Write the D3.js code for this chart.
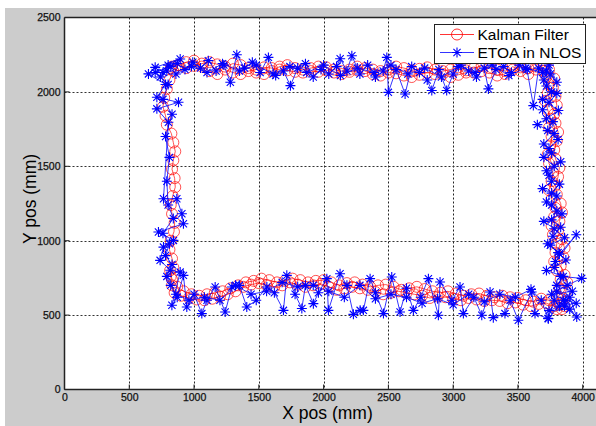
<!DOCTYPE html>
<html><head><meta charset="utf-8">
<script src="https://cdn.jsdelivr.net/npm/d3@7"></script>
<style>
html,body{margin:0;padding:0;background:#fff;}
svg{display:block;}
text{font-family:"Liberation Sans",Arial,sans-serif;}
</style></head>
<body>
<svg id="chart" width="596" height="426"></svg>
<script>
const xTicks = [0,500,1000,1500,2000,2500,3000,3500,4000];
const yTicks = [0,500,1000,1500,2000,2500];
const seriesNames = ["Kalman Filter","ETOA in NLOS"];
const seriesColors = ["#ff0000","#0000ff"];

const kalmanPts = [
[820,2160],[830,2170],[880,2180],[940,2160],[1000,2175],[1060,2190],[1120,2200],[1180,2185],[1240,2150],[1300,2130],[1360,2120],[1420,2140],[1480,2150],[1540,2165],[1600,2160],[1660,2150],[1720,2145],[1780,2135],[1840,2130],[1900,2140],[1960,2135],[2020,2145],[2080,2150],[2140,2140],[2200,2135],[2260,2145],[2320,2160],[2380,2150],[2440,2140],[2500,2130],[2560,2125],[2620,2110],[2680,2100],[2740,2115],[2800,2130],[2860,2120],[2920,2140],[2980,2150],[3040,2165],[3100,2145],[3160,2130],[3220,2140],[3280,2160],[3340,2150],[3400,2140],[3460,2150],[3520,2165],[3580,2160],[3640,2150],[3700,2140],
[3720,2100],[3740,2050],[3730,1990],[3710,1940],[3730,1880],[3750,1820],[3740,1760],[3760,1700],[3750,1640],[3730,1580],[3740,1520],[3770,1460],[3760,1400],[3740,1340],[3760,1280],[3790,1220],[3780,1160],[3760,1100],[3770,1040],[3800,980],[3790,920],[3780,860],[3800,800],[3830,740],[3820,680],[3800,630],[3830,580],[3860,560],[3840,540],
[3780,560],[3720,580],[3660,575],[3600,560],[3540,570],[3480,585],[3420,580],[3360,595],[3300,600],[3240,595],[3180,605],[3120,615],[3060,600],[3000,610],[2940,620],[2880,625],[2820,615],[2760,630],[2700,640],[2640,650],[2580,660],[2520,650],[2460,640],[2400,655],[2340,670],[2280,680],[2220,690],[2160,680],[2100,670],[2040,690],[1980,710],[1920,700],[1860,690],[1800,705],[1740,720],[1680,700],[1620,690],[1560,700],[1500,715],[1440,705],[1380,690],[1320,660],[1260,640],[1200,625],[1140,610],[1080,600],[1020,605],[960,615],[900,630],[850,650],
[830,700],[820,760],[840,820],[830,880],[810,940],[820,1000],[845,1060],[850,1120],[830,1180],[820,1240],[835,1300],[855,1360],[850,1420],[830,1480],[840,1540],[855,1600],[840,1660],[825,1720],[790,1780],[780,1840],[760,1900],[770,1960],[790,2020],[810,2080],[840,2140],[880,2180],
[940,2200],[1000,2210],[1060,2170],[1120,2140],[1180,2120],[1240,2170],[1300,2190],[1360,2180],[1420,2160],[1480,2130],[1540,2120],[1600,2140],[1660,2170],[1720,2180],[1780,2160],[1840,2150],[1900,2160],[1960,2170],[2020,2165],[2080,2130],[2140,2120],[2200,2150],[2260,2170],[2320,2140],[2380,2120],[2440,2110],[2500,2150],[2560,2170],[2620,2160],[2680,2145],[2740,2155],[2800,2165],[2860,2150],[2920,2120],[2980,2100],[3040,2115],[3100,2130],[3160,2160],[3220,2175],[3280,2130],[3340,2110],[3400,2120],[3460,2170],[3520,2140],[3580,2120],[3640,2170],[3700,2180],[3740,2150],
[3780,2090],[3770,2030],[3790,1970],[3800,1910],[3780,1850],[3790,1790],[3810,1730],[3800,1670],[3780,1610],[3790,1550],[3820,1490],[3810,1430],[3790,1370],[3800,1310],[3830,1250],[3840,1190],[3820,1130],[3810,1070],[3840,1010],[3860,950],[3850,890],[3830,830],[3860,770],[3880,720],[3870,660],[3850,610],[3820,570],[3800,540],
[3740,600],[3680,610],[3620,590],[3560,600],[3500,615],[3440,620],[3380,630],[3320,620],[3260,630],[3200,645],[3140,640],[3080,630],[3020,645],[2960,660],[2900,650],[2840,660],[2780,675],[2720,690],[2660,680],[2600,670],[2540,690],[2480,705],[2420,700],[2360,690],[2300,705],[2240,720],[2180,715],[2120,700],[2060,720],[2000,735],[1940,730],[1880,720],[1820,735],[1760,745],[1700,730],[1640,720],[1580,735],[1520,745],[1460,730],[1400,720],[1340,700],[1280,680],[1220,660],[1160,650],[1100,640],[1040,630],[980,640],[920,660],[870,690],[830,740],[815,800]
];

const etoaPts = [
[760,2130],[820,2170],[700,2130],[870,2190],[930,2150],[990,2200],[1050,2160],[1110,2210],[1170,2140],[1230,2180],[1280,2065],[1330,2250],[1390,2160],[1450,2200],[1510,2130],[1574,2232],[1630,2110],[1690,2140],[1744,2042],[1800,2160],[1860,2190],[1920,2100],[1980,2150],[2040,2120],[2100,2170],[2128,2223],[2180,2140],[2218,2243],[2280,2120],[2340,2180],[2400,2100],[2460,2140],[2488,2232],[2500,1997],[2560,2150],[2629,1986],[2680,2170],[2740,2130],[2800,2080],[2835,2009],[2890,2150],[2950,2009],[3000,2120],[3060,2180],[3120,2140],[3180,2100],[3240,2160],[3272,2020],[3330,2150],[3390,2170],[3450,2130],[3510,2180],[3570,2150],[3619,1908],[3660,2160],[3720,2140],[3800,2065],[3740,2180],
[3700,2080],[3760,2000],[3690,1950],[3812,1875],[3720,1820],[3650,1780],[3780,1720],[3700,1650],[3760,1590],[3830,1530],[3720,1470],[3760,1400],[3690,1350],[3800,1300],[3760,1240],[3840,1180],[3700,1130],[3780,1080],[3860,1020],[3750,970],[3820,910],[3950,1040],[3790,860],[3720,800],[3850,760],[3800,700],[3920,660],[3760,640],[3870,600],[3950,580],[3820,560],[3740,530],[3900,540],
[3850,600],[3735,476],[3632,510],[3606,655],[3503,465],[3440,600],[3400,510],[3310,483],[3285,655],[3221,499],[3160,620],[3079,510],[3053,689],[2990,600],[2899,722],[2886,499],[2809,745],[2750,620],[2693,532],[2640,680],[2590,521],[2526,756],[2462,510],[2400,650],[2359,745],[2307,532],[2282,532],[2230,505],[2180,700],[2127,778],[2037,532],[2025,745],[1960,650],[1921,577],[1860,700],[1832,544],[1780,640],[1716,767],[1690,532],[1620,650],[1562,689],[1480,600],[1407,554],[1350,700],[1292,689],[1240,521],[1163,689],[1100,600],[1060,510],[1000,640],[944,554],[918,767],[870,620],[829,566],
[893,789],[816,801],[738,868],[764,957],[841,1002],[725,1058],[918,1114],[906,1181],[867,1282],[764,1282],[802,1796],[713,1886],[880,1930],[713,1964],[780,2050],[648,2121],[700,2165],[893,2221],[800,2180],
[860,2120],[980,2170],[1100,2130],[1220,2190],[1350,2140],[1480,2180],[1610,2120],[1740,2170],[1870,2130],[2000,2180],[2130,2110],[2260,2160],[2390,2130],[2520,2180],[2650,2120],[2780,2160],[2910,2100],[3040,2170],[3170,2130],[3300,2180],[3430,2110],[3560,2160],[3690,2130],[3750,2120],
[3720,2040],[3800,1990],[3740,1930],[3690,1880],[3770,1800],[3730,1740],[3810,1680],[3740,1620],[3700,1560],[3780,1500],[3740,1440],[3820,1380],[3760,1320],[3720,1260],[3800,1200],[3760,1140],[3830,1090],[3770,1030],[3730,980],[3810,920],[3870,870],[3780,820],[3830,760],[3992,747],[3880,700],[3800,660],[3900,620],[3954,487],[3860,560],[3780,600],[3733,478],
[3680,600],[3601,673],[3480,620],[3360,640],[3240,590],[3120,640],[3000,570],[2880,610],[2760,580],[2640,620],[2520,640],[2400,610],[2280,700],[2160,620],[2040,660],[1920,700],[1800,690],[1680,720],[1560,660],[1440,640],[1320,700],[1200,600],[1080,620],[960,600],[860,640],
[820,700],[790,760],[830,840],[780,900],[810,980],[760,1050],[840,1150],[800,1240],[790,1400],[810,1560],[780,1700],[830,1850],[760,1950],[800,2050],[740,2100],[790,2140]
];

const svg = d3.select("#chart");
svg.append("rect").attr("x",0).attr("y",0).attr("width",596).attr("height",426).attr("fill","#ffffff");
svg.append("rect").attr("x",5).attr("y",8).attr("width",591).attr("height",418).attr("fill","#cccccc");

const padL = 64.5, padT = 17.5, padB = 389.5;
const x = d3.scaleLinear().domain([0,4000]).range([padL, 582.7]);
const y = d3.scaleLinear().domain([0,2500]).range([padB, padT]);
const rightEdge = 600;

svg.append("rect").attr("x",padL).attr("y",padT).attr("width",rightEdge-padL).attr("height",padB-padT).attr("fill","#ffffff");

const defs = svg.append("defs");
defs.append("clipPath").attr("id","clip").append("rect")
  .attr("x",padL).attr("y",padT).attr("width",rightEdge-padL).attr("height",padB-padT);

const grid = svg.append("g");
grid.selectAll("line.vx").data(xTicks.slice(1)).join("line")
  .attr("x1",d=>Math.round(x(d))+0.5).attr("x2",d=>Math.round(x(d))+0.5)
  .attr("y1",padT).attr("y2",padB)
  .attr("stroke","#222").attr("stroke-width",1).attr("stroke-dasharray","2,2");
grid.selectAll("line.hy").data(yTicks.slice(1,-1)).join("line")
  .attr("y1",d=>Math.round(y(d))+0.5).attr("y2",d=>Math.round(y(d))+0.5)
  .attr("x1",padL).attr("x2",rightEdge)
  .attr("stroke","#333").attr("stroke-width",1).attr("stroke-dasharray","2,2");

const xAxis = d3.axisBottom(x).tickValues(xTicks).tickSize(0).tickPadding(4).tickFormat(d3.format("d"));
const yAxis = d3.axisLeft(y).tickValues(yTicks).tickSize(0).tickPadding(4).tickFormat(d3.format("d"));
const gx = svg.append("g").attr("transform",`translate(0,${padB})`).call(xAxis);
const gy = svg.append("g").attr("transform",`translate(${padL},0)`).call(yAxis);
[gx,gy].forEach(g=>{
  g.select(".domain").remove();
  g.selectAll("text").attr("font-size","10.5px").attr("fill","#111")
    .attr("stroke","#111").attr("stroke-width",0.25)
    .attr("font-family","'Liberation Sans',Arial,sans-serif");
});
svg.append("g").selectAll("line").data(xTicks).join("line")
  .attr("x1",d=>x(d)).attr("x2",d=>x(d)).attr("y1",padB).attr("y2",padB-5).attr("stroke","#222");
svg.append("g").selectAll("line").data(yTicks).join("line")
  .attr("y1",d=>y(d)).attr("y2",d=>y(d)).attr("x1",padL).attr("x2",padL+5).attr("stroke","#222");

const plot = svg.append("g").attr("clip-path","url(#clip)");
const line = d3.line().x(d=>x(d[0])).y(d=>y(d[1]));

plot.append("path").datum(kalmanPts).attr("d",line).attr("fill","none")
  .attr("stroke",seriesColors[0]).attr("stroke-width",0.8).attr("stroke-opacity",0.85);
plot.append("g").selectAll("circle").data(kalmanPts).join("circle")
  .attr("cx",d=>x(d[0])).attr("cy",d=>y(d[1])).attr("r",5.5)
  .attr("fill","none").attr("stroke",seriesColors[0]).attr("stroke-width",0.8).attr("stroke-opacity",0.85);

const star = "M-5,0H5M0,-5V5M-3.6,-3.6L3.6,3.6M-3.6,3.6L3.6,-3.6";
plot.append("path").datum(etoaPts).attr("d",line).attr("fill","none")
  .attr("stroke",seriesColors[1]).attr("stroke-width",0.8);
plot.append("g").selectAll("path").data(etoaPts).join("path")
  .attr("transform",d=>`translate(${x(d[0])},${y(d[1])})`).attr("d",star)
  .attr("fill","none").attr("stroke",seriesColors[1]).attr("stroke-width",1.1);

svg.append("line").attr("x1",padL).attr("x2",rightEdge).attr("y1",padB).attr("y2",padB).attr("stroke","#222").attr("stroke-width",1.5);
svg.append("line").attr("x1",padL).attr("x2",rightEdge).attr("y1",padT).attr("y2",padT).attr("stroke","#222").attr("stroke-width",1.5);
svg.append("line").attr("x1",padL).attr("x2",padL).attr("y1",padT).attr("y2",padB).attr("stroke","#222").attr("stroke-width",1.5);

svg.append("text").attr("x",327.5).attr("y",419).attr("text-anchor","middle")
  .attr("font-size","17.5px").attr("fill","#000").text("X pos (mm)");
svg.append("text").attr("transform","translate(35.5,199) rotate(-90)").attr("text-anchor","middle")
  .attr("font-size","17.5px").attr("fill","#000").text("Y pos (mm)");

const lg = svg.append("g");
lg.append("rect").attr("x",434.5).attr("y",24.5).attr("width",151).attr("height",39)
  .attr("fill","#fff").attr("stroke","#222").attr("stroke-width",1);
const rows = [34.5, 52.5];
lg.append("line").attr("x1",440).attr("x2",474).attr("y1",rows[0]).attr("y2",rows[0]).attr("stroke",seriesColors[0]).attr("stroke-width",0.8);
lg.append("circle").attr("cx",457).attr("cy",rows[0]).attr("r",5.5).attr("fill","none").attr("stroke",seriesColors[0]).attr("stroke-width",0.8);
lg.append("line").attr("x1",440).attr("x2",474).attr("y1",rows[1]).attr("y2",rows[1]).attr("stroke",seriesColors[1]).attr("stroke-width",0.8);
lg.append("path").attr("transform",`translate(457,${rows[1]})`).attr("d",star).attr("fill","none").attr("stroke",seriesColors[1]).attr("stroke-width",1.1);
lg.selectAll("text").data(seriesNames).join("text")
  .attr("x",477.5).attr("y",(d,i)=>rows[i]+5.5).attr("font-size","15.5px").attr("fill","#000").text(d=>d);
</script>
</body></html>
